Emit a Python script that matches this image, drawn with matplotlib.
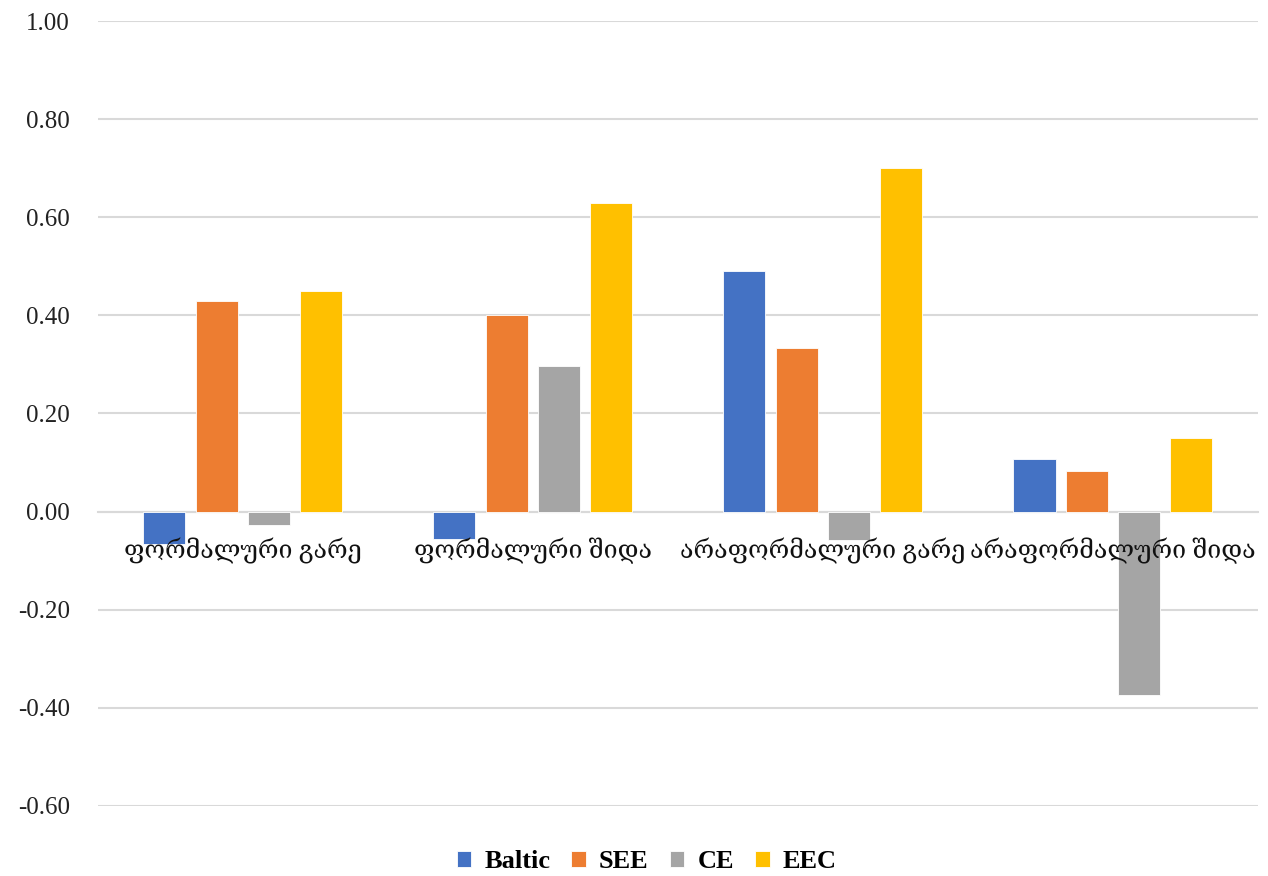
import numpy as np
import matplotlib.pyplot as plt

plt.rcParams['font.family'] = ['Liberation Serif', 'DejaVu Serif', 'DejaVu Sans']

# data
categories = ['ფორმალური გარე', 'ფორმალური შიდა', 'არაფორმალური გარე', 'არაფორმალური შიდა']
series = ['Baltic', 'SEE', 'CE', 'EEC']
baltic = [-0.067, -0.055, 0.49, 0.108]
see = [0.43, 0.40, 0.334, 0.083]
ce = [-0.028, 0.297, -0.057, -0.373]
eec = [0.45, 0.63, 0.70, 0.149]
colors = ['#4472C4', '#ED7D31', '#A5A5A5', '#FFC000']

values = [baltic, see, ce, eec]

fig = plt.figure(figsize=(12.68, 8.76), dpi=100)
ax = fig.add_axes([0.077, 0.080, 0.915, 0.896])

x = np.arange(len(categories))
step = 0.18
width = 0.145
for k, (name, vals) in enumerate(zip(series, values)):
    ax.bar(x + (k - 1.5) * step, vals, width, color=colors[k], label=name,
           edgecolor='white', linewidth=0.6, zorder=3)

ax.set_xlim(-0.5, len(categories) - 0.5)
ax.set_ylim(-0.6, 1.0)
ticks = np.arange(-0.6, 1.01, 0.2)
ax.set_yticks(ticks)
ax.set_yticklabels([f'{v:.2f}' for v in ticks])
ax.yaxis.grid(True, color='#d9d9d9', linewidth=1.5, zorder=0)
ax.set_axisbelow(True)

for s in ['top', 'right', 'left']:
    ax.spines[s].set_visible(False)
ax.spines['bottom'].set_position(('data', 0))
ax.spines['bottom'].set_color('#d9d9d9')
ax.spines['bottom'].set_linewidth(1.5)

# category labels sit just under the zero line, on top of the bars
ax.set_xticks(x)
ax.set_xticklabels([])
ax.tick_params(axis='x', length=0)
for i, cat in enumerate(categories):
    ax.annotate(cat, (i, 0), xytext=(0, -28), textcoords='offset points',
                ha='center', va='center', fontsize=18, color='#111111', zorder=5)

ax.tick_params(axis='y', length=0, pad=20, labelsize=18, labelcolor='#222222')

fig.legend(loc='center', ncol=4, frameon=False, bbox_to_anchor=(0.51, 1 - 862 / 876),
           prop={'weight': 'bold', 'size': 19}, handlelength=0.55, handleheight=0.55,
           columnspacing=0.8, handletextpad=0.5)

fig.savefig('out.png', dpi=100)
